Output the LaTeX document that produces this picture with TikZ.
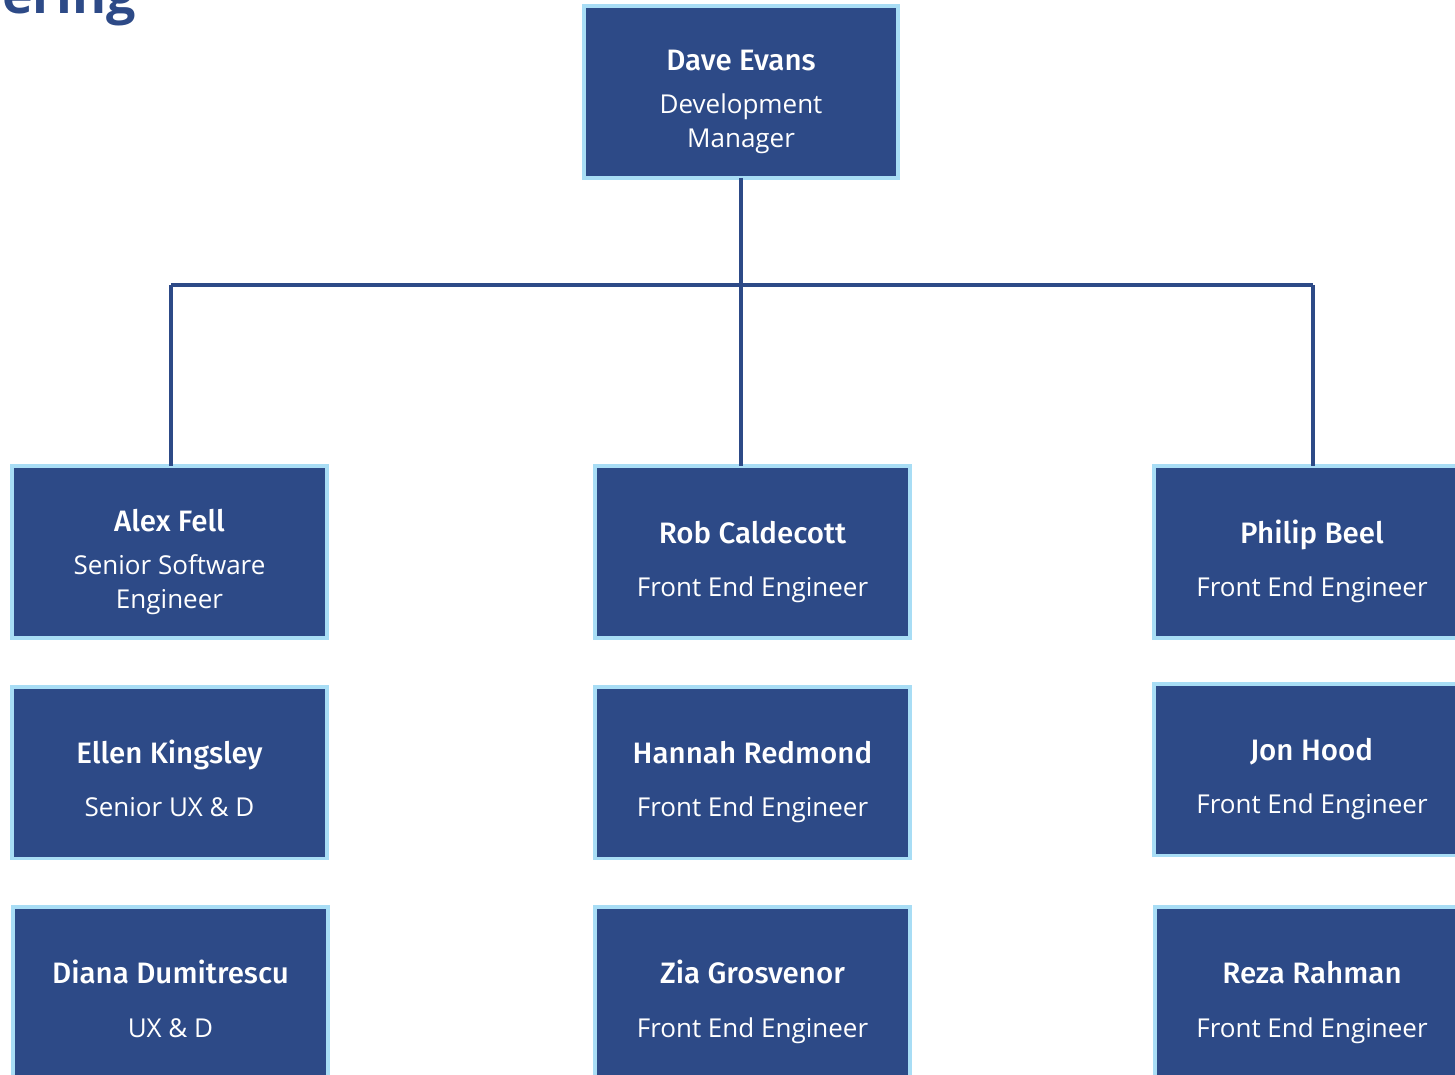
\documentclass[tikz,border=0pt]{standalone}
\usepackage{fontspec}
\setmainfont{Open Sans}
\newfontfamily\namefont{Fira Sans Medium}
\definecolor{db}{HTML}{2D4A87}
\definecolor{lb}{HTML}{A8DDF5}
\tikzset{
  box/.style={draw=lb, fill=db, line width=5.67pt, minimum width=15.75cm, minimum height=8.6cm, inner sep=0pt, outer sep=0pt},
  nm/.style={text=white, font=\namefont\fontsize{42}{48}\selectfont, anchor=base, inner sep=0pt},
  sub/.style={text=white, font=\fontsize{37}{48}\selectfont, anchor=base, inner sep=0pt},
  conn/.style={draw=db, line width=5pt}
}
\begin{document}
\begin{tikzpicture}[x=0.05cm,y=-0.05cm]
\useasboundingbox (0,0) rectangle (1455,1075);
\clip (0,0) rectangle (1455,1075);
\fill[white] (0,0) rectangle (1455,1075);
\node[anchor=base east, inner sep=0pt, text=db, font=\bfseries\fontsize{74}{80}\selectfont] (title) at (136,14) {Engineering};
% boxes
\node[box, minimum width=15.7cm] (dave) at (741,92) {};
\node[box] (alex) at (169.5,552) {};
\node[box] (rob) at (752.5,552) {};
\node[box] (philip) at (1311.5,552) {};
\node[box] (ellen) at (169.5,772.5) {};
\node[box] (hannah) at (752.5,772.5) {};
\node[box] (jon) at (1311.5,769.5) {};
\node[box] (diana) at (170.5,993) {};
\node[box] (zia) at (752.5,993) {};
\node[box] (reza) at (1312.5,993) {};
% connectors
\coordinate (hub) at (741,285);
\coordinate (hl) at (171,285);
\coordinate (hr) at (1313,285);
\draw[conn] (dave.south) -- (hub);
\draw[conn] (hl) -- (hr);
\draw[conn] (hl) -- (hl |- alex.north);
\draw[conn] (hub) -- (hub |- rob.north);
\draw[conn] (hr) -- (hr |- philip.north);
% texts
\node[nm] (t1) at (741,71) {Dave Evans};
\node[sub] (t2) at (741,114) {Development};
\node[sub] (t3) at (741,148) {Manager};
\node[nm] (t4) at (169.5,531) {Alex Fell};
\node[sub] (t5) at (169.5,574) {Senior Software};
\node[sub] (t6) at (169.5,608) {Engineer};
\node[nm] (t7) at (752.5,543) {Rob Caldecott};
\node[sub] (t8) at (752.5,596) {Front End Engineer};
\node[nm] (t9) at (1312,543) {Philip Beel};
\node[sub] (t10) at (1312,596) {Front End Engineer};
\node[nm] (t11) at (169.5,763) {Ellen Kingsley};
\node[sub] (t12) at (169.5,816) {Senior UX \& D};
\node[nm] (t13) at (752.5,763) {Hannah Redmond};
\node[sub] (t14) at (752.5,816) {Front End Engineer};
\node[nm] (t15) at (1311.5,760) {Jon Hood};
\node[sub] (t16) at (1312,813) {Front End Engineer};
\node[nm] (t17) at (170.5,983) {Diana Dumitrescu};
\node[sub] (t18) at (170.5,1037) {UX \& D};
\node[nm] (t19) at (752.5,983) {Zia Grosvenor};
\node[sub] (t20) at (752.5,1037) {Front End Engineer};
\node[nm] (t21) at (1312,983) {Reza Rahman};
\node[sub] (t22) at (1312,1037) {Front End Engineer};
\end{tikzpicture}
\end{document}
